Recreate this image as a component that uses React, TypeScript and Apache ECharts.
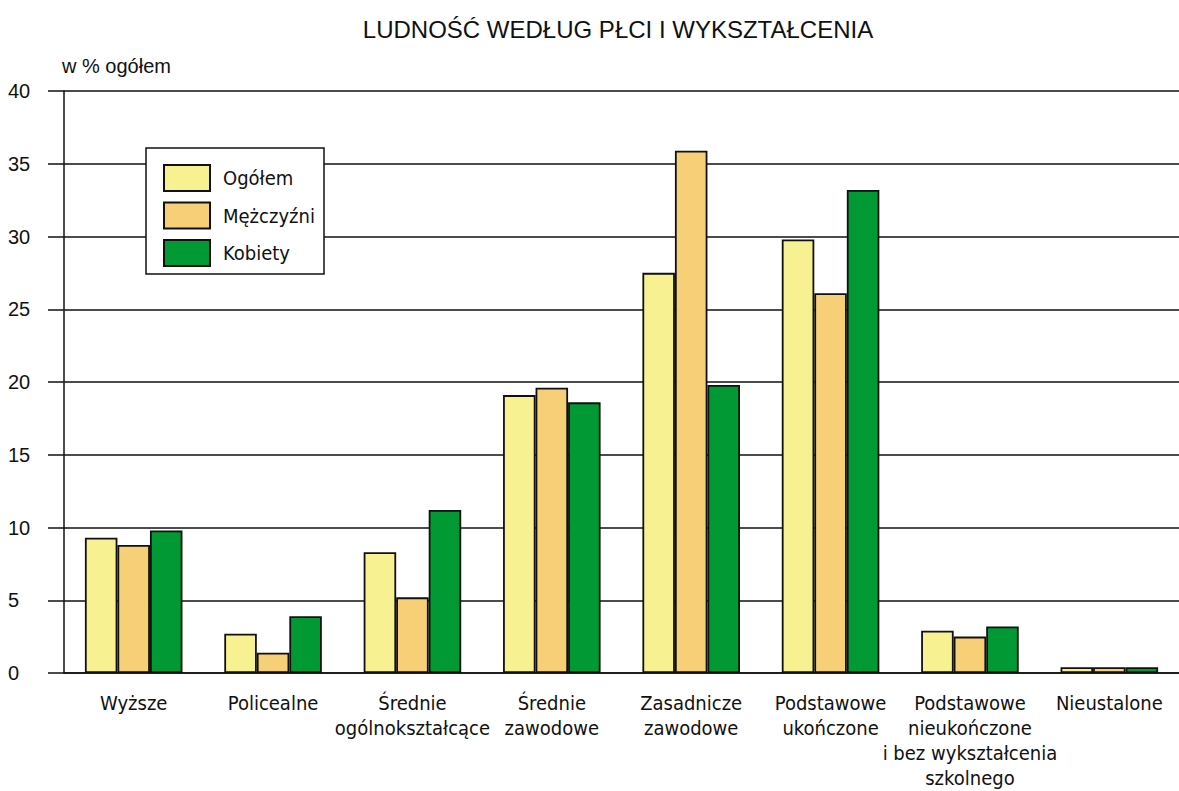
import React, { useEffect, useRef } from "react";
import * as echarts from "echarts";

const categories = [
  "Wyższe",
  "Policealne",
  "Średnie\nogólnokształcące",
  "Średnie\nzawodowe",
  "Zasadnicze\nzawodowe",
  "Podstawowe\nukończone",
  "Podstawowe\nnieukończone\ni bez wykształcenia\nszkolnego",
  "Nieustalone",
];
const ogolem = [9.3, 2.7, 8.3, 19.1, 27.5, 29.8, 2.9, 0.4];
const mezczyzni = [8.8, 1.4, 5.2, 19.6, 35.9, 26.1, 2.5, 0.4];
const kobiety = [9.8, 3.9, 11.2, 18.6, 19.8, 33.2, 3.2, 0.4];
const seriesNames = ["Ogółem", "Mężczyźni", "Kobiety"];
const colors = ["#F7F192", "#F7CF77", "#009933"];

const NARROW = "'DejaVu Sans Condensed', 'Liberation Sans Narrow', sans-serif";
const REGULAR = "'Liberation Sans', Arial, sans-serif";

export default function App() {
  const ref = useRef<HTMLDivElement>(null);
  useEffect(() => {
    if (!ref.current) return;
    const chart = echarts.init(ref.current, undefined, { renderer: "svg" });
    const data = [ogolem, mezczyzni, kobiety];
    chart.setOption({
      animation: false,
      backgroundColor: "#ffffff",
      title: {
        text: "LUDNOŚĆ WEDŁUG PŁCI I WYKSZTAŁCENIA",
        left: 613,
        textAlign: "center",
        top: 12,
        textStyle: { fontFamily: REGULAR, fontSize: 24, fontWeight: "normal", color: "#111" },
      },
      grid: { left: 64, right: -3, top: 91, bottom: 118, containLabel: false },
      legend: {
        orient: "vertical",
        left: 163,
        top: 164,
        padding: 0,
        icon: "rect",
        itemWidth: 46,
        itemHeight: 26,
        itemGap: 9.5,
        z: 10,
        data: seriesNames,
        textStyle: {
          fontFamily: NARROW,
          fontSize: 20,
          lineHeight: 26,
          color: "#111",
          padding: [0, 0, 0, 8],
        },
      },
      graphic: [
        {
          type: "rect",
          z: 9,
          shape: { x: 146, y: 148, width: 178, height: 126 },
          style: { fill: "#ffffff", stroke: "#111", lineWidth: 1.5 },
        },
      ],
      xAxis: {
        type: "category",
        data: categories,
        axisLine: { show: true, lineStyle: { color: "#111", width: 1.5 } },
        axisTick: { show: false },
        axisLabel: {
          interval: 0,
          margin: 17,
          fontFamily: NARROW,
          fontSize: 20,
          lineHeight: 25,
          color: "#111",
        },
      },
      yAxis: {
        type: "value",
        min: 0,
        max: 40,
        interval: 5,
        name: "w % ogółem",
        nameLocation: "end",
        nameGap: 25,
        nameTextStyle: {
          fontFamily: REGULAR,
          fontSize: 20,
          color: "#111",
          align: "left",
          verticalAlign: "middle",
          padding: [0, 0, 0, -2],
        },
        axisLine: { show: true, lineStyle: { color: "#111", width: 1.5 } },
        axisTick: { show: true, length: 16, lineStyle: { color: "#111", width: 1.5 } },
        splitLine: { show: true, lineStyle: { color: "#111", width: 1.5 } },
        axisLabel: {
          align: "left",
          margin: 56,
          fontFamily: REGULAR,
          fontSize: 20,
          color: "#111",
        },
      },
      series: seriesNames.map((name, i) => ({
        name,
        type: "bar",
        data: data[i],
        barGap: 0,
        barCategoryGap: "30%",
        itemStyle: { color: colors[i], borderColor: "#111", borderWidth: 1.8 },
      })),
    });
    return () => chart.dispose();
  }, []);
  return (
    <div
      ref={ref}
      style={{ position: "absolute", left: 0, top: 0, width: 1179, height: 791 }}
    />
  );
}
